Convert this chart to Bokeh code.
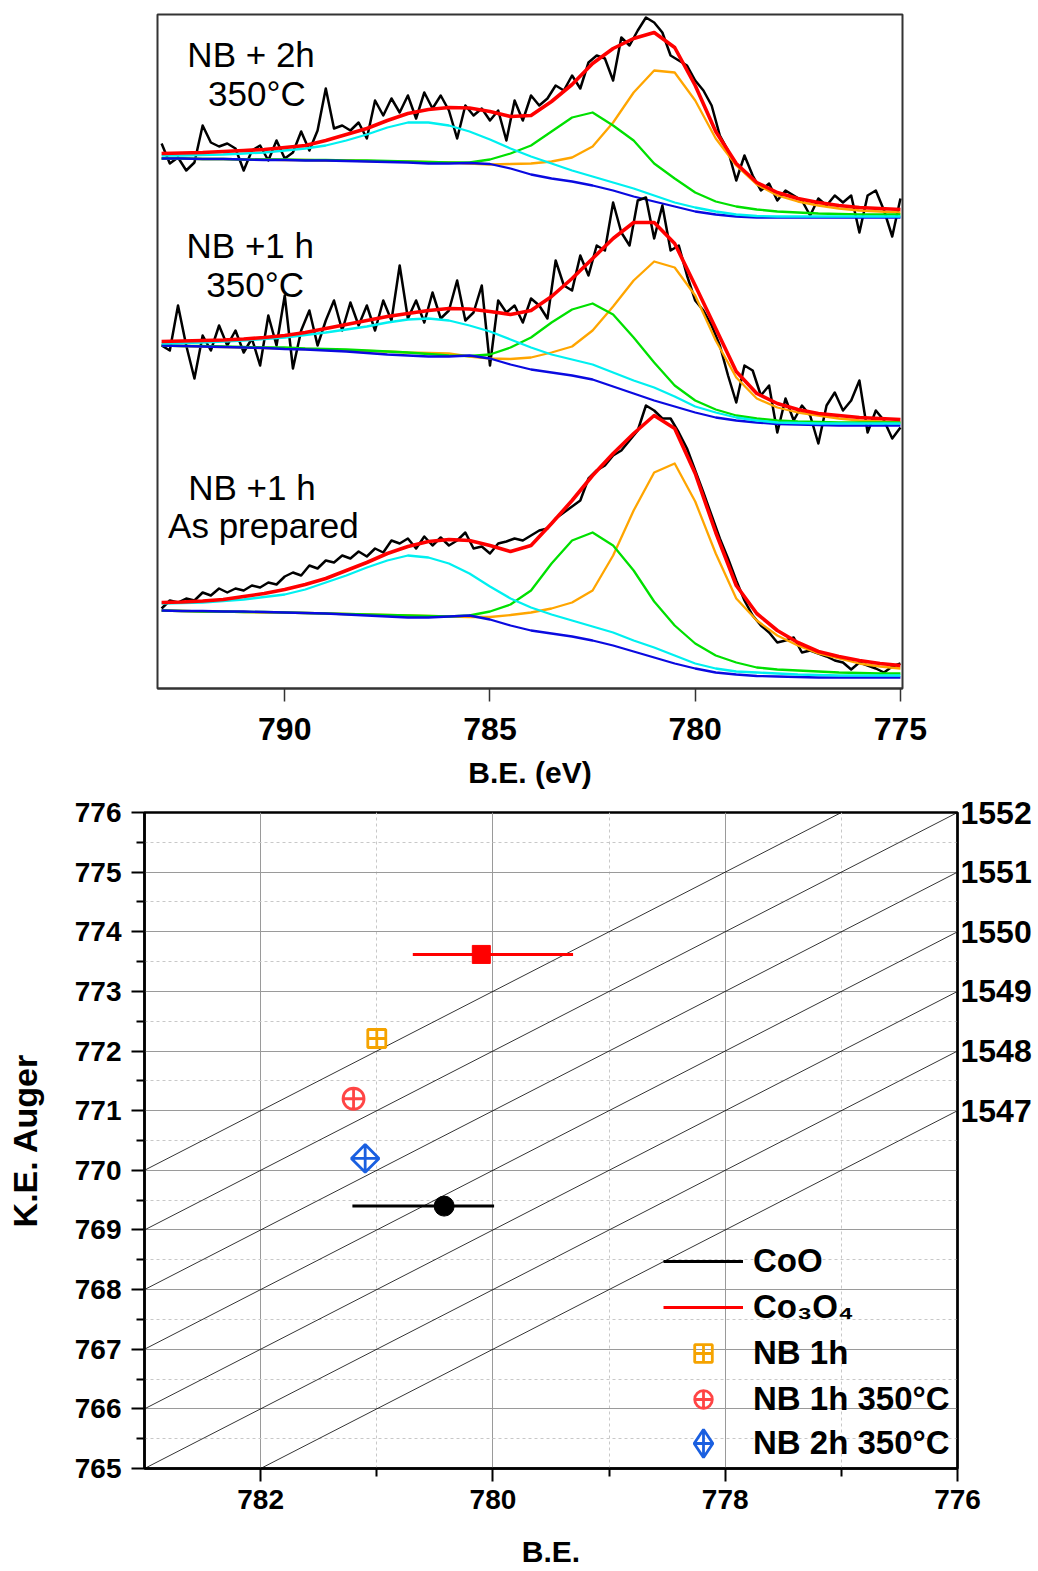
import math
from bokeh.plotting import figure
from bokeh.models import (Range1d, FixedTicker, LinearAxis, Legend, LegendItem, Label)
from bokeh.embed import file_html
from bokeh.resources import INLINE

FONT = "Liberation Sans"

# ---------------- top panel: Co 2p3/2 XPS spectra ----------------
BE_RAW = [793.0, 792.8, 792.6, 792.4, 792.2, 792.0, 791.8, 791.6, 791.4, 791.2,
          791.0, 790.8, 790.6, 790.4, 790.2, 790.0, 789.8, 789.6, 789.4, 789.2,
          789.0, 788.8, 788.6, 788.4, 788.2, 788.0, 787.8, 787.6, 787.4, 787.2,
          787.0, 786.8, 786.6, 786.4, 786.2, 786.0, 785.8, 785.6, 785.4, 785.2,
          785.0, 784.8, 784.6, 784.4, 784.2, 784.0, 783.8, 783.6, 783.4, 783.2,
          783.0, 782.8, 782.6, 782.4, 782.2, 782.0, 781.8, 781.6, 781.4, 781.2,
          781.0, 780.8, 780.6, 780.4, 780.2, 780.0, 779.8, 779.6, 779.4, 779.2,
          779.0, 778.8, 778.6, 778.4, 778.2, 778.0, 777.8, 777.6, 777.4, 777.2,
          777.0, 776.8, 776.6, 776.4, 776.2, 776.0, 775.8, 775.6, 775.4, 775.2,
          775.0]
BE_FIT = [793.0, 792.5, 792.0, 791.5, 791.0, 790.5, 790.0, 789.5, 789.0, 788.5,
          788.0, 787.5, 787.0, 786.5, 786.0, 785.5, 785.0, 784.5, 784.0, 783.5,
          783.0, 782.5, 782.0, 781.5, 781.0, 780.5, 780.0, 779.5, 779.0, 778.5,
          778.0, 777.5, 777.0, 776.5, 776.0, 775.5, 775.0]

# NB + 2h, 350 C (top trace)
RAW_2H_350 = [545, 525, 531, 518, 526, 563, 546, 542, 545, 540,
              518, 538, 543, 528, 548, 530, 536, 557, 538, 558,
              600, 560, 563, 558, 566, 550, 588, 573, 590, 576,
              593, 570, 596, 580, 593, 578, 550, 583, 573, 580,
              568, 578, 548, 588, 568, 593, 583, 590, 603, 598,
              613, 600, 626, 633, 630, 608, 651, 643, 658, 671,
              666, 656, 633, 628, 623, 608, 598, 583, 553, 538,
              508, 533, 513, 498, 505, 488, 498, 493, 488, 473,
              490, 483, 493, 486, 493, 456, 493, 498, 478, 452,
              490]
FIT_2H_350 = [535, 535.5, 536, 537, 538, 539, 541, 543, 548, 554,
              560, 568, 575, 579, 581, 580.5, 577, 572, 573, 587,
              604, 625, 640, 650, 656, 641, 603, 557, 525, 506,
              496, 490, 486, 483, 481, 480, 479]
ORANGE_2H_350 = [530, 530, 529.5, 529.5, 529, 529, 528.5, 528.5, 528, 528,
                 527.5, 527, 527, 526.5, 526, 525, 524, 524.5, 525, 527,
                 531, 542, 566, 596, 618, 616, 588, 550, 523, 504,
                 493, 487, 483, 480, 478, 477, 476]
GREEN_2H_350 = [530, 530, 529.5, 529.5, 529, 529, 529, 528.5, 528.5, 528,
                528, 527.5, 527, 526.5, 526, 526, 529, 535, 543, 557,
                571, 576, 563, 548, 525, 510, 496, 487, 482, 479,
                477, 476, 475, 474.5, 474, 474, 474]
CYAN_2H_350 = [533, 533, 533.5, 534, 535, 536, 538, 540, 543, 548,
               554, 561, 566, 566, 563, 557, 549, 540, 532, 525,
               518, 512, 506, 500, 493, 486, 481, 477, 474, 472.5,
               472, 472, 472, 472, 472, 472, 472]
BLUE_2H_350 = [530, 530, 529.5, 529.5, 529, 528.5, 528.5, 528, 528, 527.5,
               527, 526.5, 526, 525, 525, 525.5, 524.5, 520, 514, 510,
               507, 503, 498, 492, 487, 482, 477, 474, 472, 471,
               471, 471, 471, 471, 471, 471, 471]

# NB +1 h, 350 C (middle trace)
RAW_1H_350 = [343, 338, 383, 343, 310, 353, 338, 363, 343, 358,
              336, 350, 323, 373, 343, 393, 320, 358, 378, 343,
              368, 388, 358, 386, 363, 383, 358, 388, 368, 423,
              370, 388, 366, 396, 370, 378, 408, 368, 376, 403,
              323, 388, 376, 383, 366, 390, 383, 370, 428, 403,
              398, 433, 413, 443, 438, 486, 456, 443, 488, 491,
              450, 483, 438, 443, 413, 388, 378, 363, 343, 313,
              286, 323, 318, 293, 303, 256, 290, 268, 283, 273,
              245, 283, 296, 278, 288, 308, 256, 278, 268, 250,
              261]
FIT_1H_350 = [347, 347.5, 348, 348.5, 349.5, 351, 353, 356, 360, 364,
              368, 372, 375, 378, 380, 379.5, 377, 374, 378, 392,
              410, 430, 450, 466, 466, 445, 403, 360, 317, 295,
              285, 279, 275, 273, 271, 270, 269]
ORANGE_1H_350 = [343, 342.5, 342, 341.5, 341, 340.5, 340, 339.5, 339, 338,
                 337.5, 337, 336, 335.5, 335, 332, 330, 329.5, 331, 336,
                 342, 358, 382, 408, 427, 421, 393, 348, 311, 290,
                 281, 276, 273, 270, 268, 267, 266]
GREEN_1H_350 = [343, 342.5, 342.5, 342, 341.5, 341, 341, 340, 339.5, 339,
                338, 337, 336, 334.5, 333, 332.5, 334, 341, 351, 366,
                379, 385, 374, 351, 326, 303, 288, 279, 273, 270,
                268, 267, 266.5, 266, 266, 266, 266]
CYAN_1H_350 = [345, 345.5, 346, 347, 348, 349.5, 351, 353.5, 356, 359,
               362, 366, 369, 370, 368, 363, 357, 349, 341, 334,
               329, 324, 316, 308, 301, 292, 282, 276, 271, 268,
               266, 265.5, 265, 265, 265, 265, 265]
BLUE_1H_350 = [343, 342.5, 342, 341.5, 341, 340.5, 339.5, 339, 338, 337,
               335.5, 334, 333, 332, 332, 333, 330, 324, 319, 316,
               313, 309, 302, 295, 288, 282, 276, 271, 268, 266,
               264.5, 264, 263.5, 263, 263, 263, 263]

# NB +1 h, as prepared (bottom trace)
RAW_1H = [80, 88, 86, 90, 88, 96, 93, 100, 96, 100,
          98, 103, 101, 106, 104, 112, 116, 113, 123, 120,
          128, 126, 133, 130, 137, 132, 140, 136, 148, 145,
          150, 140, 152, 143, 151, 143, 148, 156, 140, 142,
          135, 145, 147, 150, 148, 153, 158, 160, 170, 176,
          182, 188, 210, 218, 223, 233, 238, 248, 258, 283,
          278, 270, 270, 256, 240, 218, 196, 173, 150, 130,
          108, 88, 73, 63, 56, 46, 48, 51, 36, 38,
          35, 32, 28, 26, 19, 26, 23, 20, 16, 22,
          25]
FIT_1H = [86, 86.5, 87.5, 89, 92, 95, 99, 104, 110, 118,
          126, 135, 142, 147, 149, 148, 143, 137, 143, 165,
          188, 213, 235, 255, 273, 260, 215, 156, 103, 75,
          58, 46, 37, 32, 28, 25, 23]
ORANGE_1H = [78, 77.5, 77, 77, 76.5, 76, 76, 75.5, 75, 74.5,
             74, 73.5, 73, 72.5, 72, 71.5, 71.5, 73.5, 76, 80,
             86, 98, 133, 178, 216, 225, 187, 135, 90, 68,
             53, 43, 35, 30, 25, 22, 20]
GREEN_1H = [78, 77.5, 77, 77, 76.5, 76.5, 76, 75.5, 75, 74.5,
            74, 73.5, 73, 72.5, 72, 73, 77, 84, 98, 125,
            148, 156, 143, 118, 87, 63, 45, 33, 26, 21,
            19, 18, 17, 16, 15.5, 15, 15]
CYAN_1H = [85, 85.5, 86, 87.5, 89, 91.5, 94, 99, 106, 113,
           121, 128, 133, 131, 125, 115, 102, 90, 81, 74,
           68, 62, 56, 48, 41, 33, 25, 20, 17, 16,
           15, 14, 13.5, 13, 13, 13, 13]
BLUE_1H = [78, 77.5, 77.5, 77, 77, 76.5, 76, 75.5, 75, 74,
           73, 72, 71, 71, 72, 73, 69, 63, 58, 55,
           52, 48, 43, 37, 31, 25, 20, 16, 14, 12.5,
           12, 11.5, 11, 11, 11, 11, 11]

TOP_TICKS = [775, 780, 785, 790]
TOP_LABELS = [("NB + 2h", 790.82, 634), ("350°C", 790.68, 595),
              ("NB +1 h", 790.84, 443), ("350°C", 790.72, 404),
              ("NB +1 h", 790.80, 201), ("As prepared", 790.52, 163)]

# ---------------- bottom panel: Wagner plot ----------------
REF_NAMES = ["CoO", "Co\u2083O\u2084"]
REF_BE = [780.42, 780.10]
REF_KE = [769.40, 773.62]
REF_BE_HIGH = [781.21, 780.69]
REF_BE_LOW = [779.99, 779.31]
REF_COLORS = ["black", "#ff0000"]
REF_MARKERS = ["circle", "square"]

SAMPLE_NAMES = ["NB 1h", "NB 1h 350°C", "NB 2h 350°C"]
SAMPLE_BE = [781.00, 781.20, 781.10]
SAMPLE_KE = [772.21, 771.20, 770.20]
SAMPLE_COLORS = ["#f5a300", "#ff4545", "#1a5fe0"]

ALPHA_LINES = [1547, 1548, 1549, 1550, 1551, 1552, 1553]
ALPHA_LABELS = [1547, 1548, 1549, 1550, 1551, 1552]
BE_MIN, BE_MAX = 776, 783
KE_MIN, KE_MAX = 765, 776

# ================= top figure =================
p1 = figure(width=1038, height=794, x_range=Range1d(793.1, 774.95),
            y_range=Range1d(0, 674), y_axis_location=None,
            output_backend="svg", toolbar_location=None,
            min_border_left=157, min_border_right=136,
            min_border_top=14, min_border_bottom=106)
p1.grid.visible = False
p1.outline_line_color = "#333333"
p1.outline_line_width = 2
p1.background_fill_color = "white"

traces = [
    (RAW_2H_350, FIT_2H_350, ORANGE_2H_350, GREEN_2H_350, CYAN_2H_350, BLUE_2H_350),
    (RAW_1H_350, FIT_1H_350, ORANGE_1H_350, GREEN_1H_350, CYAN_1H_350, BLUE_1H_350),
    (RAW_1H, FIT_1H, ORANGE_1H, GREEN_1H, CYAN_1H, BLUE_1H),
]
for raw, fit, orng, grn, cyn, blu in traces:
    p1.line(BE_RAW, raw, line_color="black", line_width=2.5, line_join="round")
    p1.line(BE_FIT, orng, line_color="#ffa500", line_width=2.3, line_join="round")
    p1.line(BE_FIT, grn, line_color="#00e000", line_width=2.3, line_join="round")
    p1.line(BE_FIT, blu, line_color="#0a0ae0", line_width=2.3, line_join="round")
    p1.line(BE_FIT, cyn, line_color="#00f0f0", line_width=2.3, line_join="round")
    p1.line(BE_FIT, fit, line_color="#ff0000", line_width=3.6, line_join="round")

for txt, bx, by in TOP_LABELS:
    p1.add_layout(Label(x=bx, y=by, text=txt, text_font=FONT, text_font_size="35px",
                        text_align="center", text_baseline="alphabetic", text_color="black"))

ax1 = p1.xaxis[0]
ax1.ticker = FixedTicker(ticks=TOP_TICKS, minor_ticks=[])
ax1.major_tick_out = 13
ax1.major_tick_in = 0
ax1.minor_tick_out = 0
ax1.minor_tick_in = 0
ax1.axis_line_color = "#333333"
ax1.axis_line_width = 2
ax1.major_tick_line_color = "#333333"
ax1.major_tick_line_width = 1.5
ax1.major_label_text_font = FONT
ax1.major_label_text_font_style = "bold"
ax1.major_label_text_font_size = "32px"
ax1.major_label_text_color = "black"
ax1.major_label_standoff = 16
ax1.axis_label = "B.E. (eV)"
ax1.axis_label_text_font = FONT
ax1.axis_label_text_font_style = "bold"
ax1.axis_label_text_font_size = "30px"
ax1.axis_label_text_color = "black"
ax1.axis_label_standoff = 13

# ================= bottom figure =================
p2 = figure(width=1038, height=777, x_range=Range1d(BE_MAX, BE_MIN),
            y_range=Range1d(KE_MIN, KE_MAX),
            output_backend="svg", toolbar_location=None,
            min_border_left=144, min_border_right=81,
            min_border_top=18, min_border_bottom=103)
p2.outline_line_color = "black"
p2.outline_line_width = 2.5
p2.extra_y_ranges = {"alpha": Range1d(KE_MIN + BE_MIN, KE_MAX + BE_MIN)}

xt = FixedTicker(ticks=[776, 778, 780, 782], minor_ticks=[777, 779, 781])
yt = FixedTicker(ticks=list(range(765, 777)),
                 minor_ticks=[v + 0.5 for v in range(765, 776)])
p2.xaxis[0].ticker = xt
p2.xgrid[0].ticker = xt
p2.yaxis[0].ticker = yt
p2.ygrid[0].ticker = yt
for g in (p2.xgrid[0], p2.ygrid[0]):
    g.grid_line_color = "#9a9a9a"
    g.grid_line_width = 1
    g.minor_grid_line_color = "#c8c8c8"
    g.minor_grid_line_dash = "3 3"
    g.minor_grid_line_width = 1

for ax in (p2.xaxis[0], p2.yaxis[0]):
    ax.major_tick_out = 13
    ax.major_tick_in = 0
    ax.minor_tick_out = 8
    ax.minor_tick_in = 0
    ax.axis_line_color = "black"
    ax.axis_line_width = 2.5
    ax.major_tick_line_width = 2
    ax.minor_tick_line_width = 2
    ax.major_label_text_font = FONT
    ax.major_label_text_font_style = "bold"
    ax.major_label_text_font_size = "28px"
    ax.major_label_text_color = "black"
    ax.axis_label_text_font = FONT
    ax.axis_label_text_font_style = "bold"
    ax.axis_label_text_color = "black"
p2.xaxis[0].major_label_standoff = 8
p2.xaxis[0].axis_label = "B.E."
p2.xaxis[0].axis_label_text_font_size = "30px"
p2.xaxis[0].axis_label_standoff = 23
p2.yaxis[0].major_label_standoff = 10
p2.yaxis[0].axis_label = "K.E. Auger"
p2.yaxis[0].axis_label_text_font_size = "34px"
p2.yaxis[0].axis_label_standoff = 28

rax = LinearAxis(y_range_name="alpha", ticker=FixedTicker(ticks=ALPHA_LABELS, minor_ticks=[]))
rax.major_tick_out = 0
rax.major_tick_in = 0
rax.minor_tick_out = 0
rax.minor_tick_in = 0
rax.axis_line_color = "black"
rax.axis_line_width = 2
rax.major_label_standoff = 3
rax.major_label_text_font = FONT
rax.major_label_text_font_style = "bold"
rax.major_label_text_font_size = "32px"
rax.major_label_text_color = "black"
p2.add_layout(rax, "right")

# Auger-parameter iso-lines: KE = alpha - BE
p2.multi_line(xs=[[BE_MAX, BE_MIN] for a in ALPHA_LINES],
              ys=[[a - BE_MAX, a - BE_MIN] for a in ALPHA_LINES],
              line_color="black", line_width=0.8)

items = []
for i, name in enumerate(REF_NAMES):
    seg = p2.segment(x0=[REF_BE_HIGH[i]], x1=[REF_BE_LOW[i]], y0=[REF_KE[i]], y1=[REF_KE[i]],
                     line_color=REF_COLORS[i], line_width=3)
    p2.scatter([REF_BE[i]], [REF_KE[i]], marker=REF_MARKERS[i],
               size=20 if REF_MARKERS[i] == "circle" else 18,
               fill_color=REF_COLORS[i], line_color=REF_COLORS[i], line_width=1)
    items.append(LegendItem(label=name, renderers=[seg]))

smarkers = ["square_cross", "circle_cross", "square_x"]
legend_markers = ["square_cross", "circle_cross", "diamond_cross"]
ssizes = [18, 21, 19.5]
sangles = [0, 0, math.pi / 4]
big_items = []
for i, name in enumerate(SAMPLE_NAMES):
    r = p2.scatter([SAMPLE_BE[i]], [SAMPLE_KE[i]], marker=smarkers[i], size=ssizes[i],
                   angle=sangles[i], fill_color=None, line_color=SAMPLE_COLORS[i],
                   line_width=2.8)
    if legend_markers[i] != smarkers[i]:
        # legend swatch (legend glyphs are never rotated)
        r = p2.scatter([SAMPLE_BE[i]], [SAMPLE_KE[i]], marker=legend_markers[i], size=0,
                       fill_color=None, line_color=SAMPLE_COLORS[i], line_width=2.8)
        big_items.append(LegendItem(label=name, renderers=[r]))
    else:
        items.append(LegendItem(label=name, renderers=[r]))

legend_style = dict(padding=0, margin=0, spacing=2, glyph_width=80,
                    label_standoff=10, border_line_color=None,
                    background_fill_alpha=0, label_text_font=FONT,
                    label_text_font_style="bold", label_text_font_size="33px",
                    label_text_color="black")
legend = Legend(items=items, location=(519, 47), glyph_height=44, label_height=44,
                **legend_style)
p2.add_layout(legend)
legend2 = Legend(items=big_items, location=(519, -10), glyph_height=70, label_height=70,
                 **legend_style)
p2.add_layout(legend2)

open("out.html", "w").write(file_html([p1, p2], INLINE))
